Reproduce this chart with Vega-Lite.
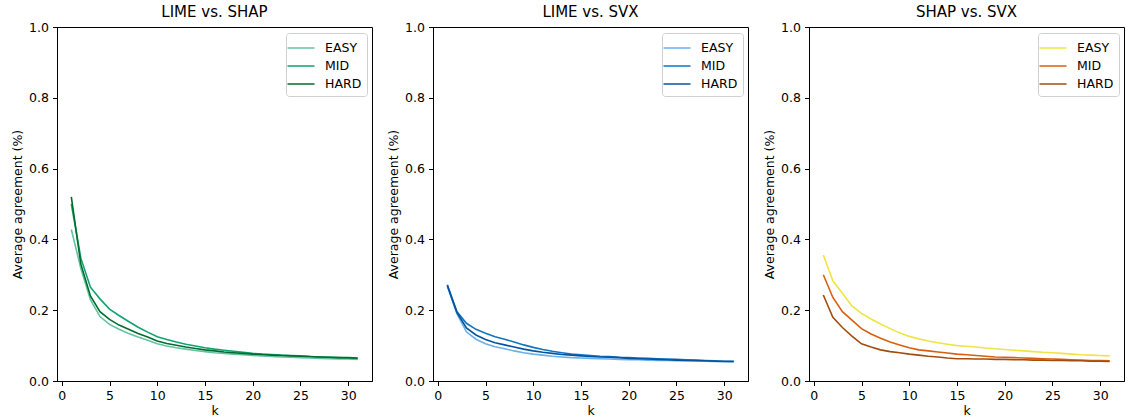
{
  "$schema": "https://vega.github.io/schema/vega-lite/v6.json",
  "padding": {"left": 11, "top": 4, "right": 2, "bottom": 2},
  "background": "white",
  "config": {
    "font": "DejaVu Sans",
    "view": {"stroke": "black", "strokeWidth": 1},
    "title": {"fontSize": 15, "fontWeight": "normal", "color": "black", "offset": 0, "dy": 3},
    "axis": {
      "grid": false,
      "domainColor": "black",
      "tickColor": "black",
      "tickSize": 4.5,
      "labelFontSize": 12.5,
      "labelColor": "black",
      "labelPadding": 4,
      "titleFontSize": 12.5,
      "titleFontWeight": "normal",
      "titleColor": "black",
      "titlePadding": 4
    },
    "axisX": {"titlePadding": 2},
    "legend": {
      "orient": "top-right",
      "offset": 5.5,
      "strokeColor": "#d0d0d0",
      "fillColor": "white",
      "padding": 5,
      "cornerRadius": 3,
      "labelFontSize": 12.5,
      "labelColor": "black",
      "symbolType": "M-1.5,0H1.5",
      "symbolStrokeWidth": 1.5,
      "symbolSize": 324,
      "rowPadding": 1,
      "labelOffset": 14
    }
  },
  "datasets": {
    "d": [
      {"pair": "LIME vs. SHAP", "k": 1, "EASY": 0.428, "MID": 0.500, "HARD": 0.520},
      {"pair": "LIME vs. SHAP", "k": 2, "EASY": 0.318, "MID": 0.347, "HARD": 0.330},
      {"pair": "LIME vs. SHAP", "k": 3, "EASY": 0.230, "MID": 0.265, "HARD": 0.240},
      {"pair": "LIME vs. SHAP", "k": 4, "EASY": 0.182, "MID": 0.232, "HARD": 0.196},
      {"pair": "LIME vs. SHAP", "k": 5, "EASY": 0.160, "MID": 0.203, "HARD": 0.174},
      {"pair": "LIME vs. SHAP", "k": 6, "EASY": 0.146, "MID": 0.185, "HARD": 0.158},
      {"pair": "LIME vs. SHAP", "k": 7, "EASY": 0.134, "MID": 0.168, "HARD": 0.146},
      {"pair": "LIME vs. SHAP", "k": 8, "EASY": 0.124, "MID": 0.152, "HARD": 0.134},
      {"pair": "LIME vs. SHAP", "k": 9, "EASY": 0.115, "MID": 0.138, "HARD": 0.124},
      {"pair": "LIME vs. SHAP", "k": 10, "EASY": 0.105, "MID": 0.125, "HARD": 0.113},
      {"pair": "LIME vs. SHAP", "k": 11, "EASY": 0.099, "MID": 0.117, "HARD": 0.106},
      {"pair": "LIME vs. SHAP", "k": 12, "EASY": 0.094, "MID": 0.110, "HARD": 0.101},
      {"pair": "LIME vs. SHAP", "k": 13, "EASY": 0.090, "MID": 0.104, "HARD": 0.096},
      {"pair": "LIME vs. SHAP", "k": 14, "EASY": 0.086, "MID": 0.099, "HARD": 0.092},
      {"pair": "LIME vs. SHAP", "k": 15, "EASY": 0.083, "MID": 0.094, "HARD": 0.088},
      {"pair": "LIME vs. SHAP", "k": 16, "EASY": 0.080, "MID": 0.090, "HARD": 0.085},
      {"pair": "LIME vs. SHAP", "k": 17, "EASY": 0.078, "MID": 0.087, "HARD": 0.082},
      {"pair": "LIME vs. SHAP", "k": 18, "EASY": 0.076, "MID": 0.084, "HARD": 0.080},
      {"pair": "LIME vs. SHAP", "k": 19, "EASY": 0.074, "MID": 0.081, "HARD": 0.078},
      {"pair": "LIME vs. SHAP", "k": 20, "EASY": 0.072, "MID": 0.078, "HARD": 0.076},
      {"pair": "LIME vs. SHAP", "k": 21, "EASY": 0.071, "MID": 0.076, "HARD": 0.075},
      {"pair": "LIME vs. SHAP", "k": 22, "EASY": 0.069, "MID": 0.075, "HARD": 0.073},
      {"pair": "LIME vs. SHAP", "k": 23, "EASY": 0.068, "MID": 0.073, "HARD": 0.072},
      {"pair": "LIME vs. SHAP", "k": 24, "EASY": 0.067, "MID": 0.072, "HARD": 0.071},
      {"pair": "LIME vs. SHAP", "k": 25, "EASY": 0.066, "MID": 0.071, "HARD": 0.070},
      {"pair": "LIME vs. SHAP", "k": 26, "EASY": 0.065, "MID": 0.069, "HARD": 0.069},
      {"pair": "LIME vs. SHAP", "k": 27, "EASY": 0.064, "MID": 0.068, "HARD": 0.068},
      {"pair": "LIME vs. SHAP", "k": 28, "EASY": 0.063, "MID": 0.067, "HARD": 0.067},
      {"pair": "LIME vs. SHAP", "k": 29, "EASY": 0.062, "MID": 0.066, "HARD": 0.066},
      {"pair": "LIME vs. SHAP", "k": 30, "EASY": 0.062, "MID": 0.065, "HARD": 0.066},
      {"pair": "LIME vs. SHAP", "k": 31, "EASY": 0.061, "MID": 0.064, "HARD": 0.065},
      {"pair": "LIME vs. SVX", "k": 1, "EASY": 0.268, "MID": 0.272, "HARD": 0.270},
      {"pair": "LIME vs. SVX", "k": 2, "EASY": 0.190, "MID": 0.196, "HARD": 0.194},
      {"pair": "LIME vs. SVX", "k": 3, "EASY": 0.139, "MID": 0.163, "HARD": 0.150},
      {"pair": "LIME vs. SVX", "k": 4, "EASY": 0.118, "MID": 0.146, "HARD": 0.130},
      {"pair": "LIME vs. SVX", "k": 5, "EASY": 0.105, "MID": 0.135, "HARD": 0.117},
      {"pair": "LIME vs. SVX", "k": 6, "EASY": 0.097, "MID": 0.125, "HARD": 0.108},
      {"pair": "LIME vs. SVX", "k": 7, "EASY": 0.091, "MID": 0.118, "HARD": 0.102},
      {"pair": "LIME vs. SVX", "k": 8, "EASY": 0.085, "MID": 0.110, "HARD": 0.096},
      {"pair": "LIME vs. SVX", "k": 9, "EASY": 0.080, "MID": 0.102, "HARD": 0.090},
      {"pair": "LIME vs. SVX", "k": 10, "EASY": 0.076, "MID": 0.095, "HARD": 0.085},
      {"pair": "LIME vs. SVX", "k": 11, "EASY": 0.073, "MID": 0.089, "HARD": 0.081},
      {"pair": "LIME vs. SVX", "k": 12, "EASY": 0.070, "MID": 0.084, "HARD": 0.078},
      {"pair": "LIME vs. SVX", "k": 13, "EASY": 0.068, "MID": 0.080, "HARD": 0.075},
      {"pair": "LIME vs. SVX", "k": 14, "EASY": 0.066, "MID": 0.076, "HARD": 0.073},
      {"pair": "LIME vs. SVX", "k": 15, "EASY": 0.065, "MID": 0.074, "HARD": 0.071},
      {"pair": "LIME vs. SVX", "k": 16, "EASY": 0.064, "MID": 0.072, "HARD": 0.069},
      {"pair": "LIME vs. SVX", "k": 17, "EASY": 0.063, "MID": 0.070, "HARD": 0.068},
      {"pair": "LIME vs. SVX", "k": 18, "EASY": 0.062, "MID": 0.069, "HARD": 0.067},
      {"pair": "LIME vs. SVX", "k": 19, "EASY": 0.061, "MID": 0.067, "HARD": 0.066},
      {"pair": "LIME vs. SVX", "k": 20, "EASY": 0.060, "MID": 0.066, "HARD": 0.064},
      {"pair": "LIME vs. SVX", "k": 21, "EASY": 0.060, "MID": 0.065, "HARD": 0.063},
      {"pair": "LIME vs. SVX", "k": 22, "EASY": 0.059, "MID": 0.064, "HARD": 0.062},
      {"pair": "LIME vs. SVX", "k": 23, "EASY": 0.058, "MID": 0.063, "HARD": 0.061},
      {"pair": "LIME vs. SVX", "k": 24, "EASY": 0.058, "MID": 0.062, "HARD": 0.060},
      {"pair": "LIME vs. SVX", "k": 25, "EASY": 0.057, "MID": 0.061, "HARD": 0.059},
      {"pair": "LIME vs. SVX", "k": 26, "EASY": 0.057, "MID": 0.060, "HARD": 0.058},
      {"pair": "LIME vs. SVX", "k": 27, "EASY": 0.056, "MID": 0.059, "HARD": 0.058},
      {"pair": "LIME vs. SVX", "k": 28, "EASY": 0.056, "MID": 0.058, "HARD": 0.057},
      {"pair": "LIME vs. SVX", "k": 29, "EASY": 0.055, "MID": 0.057, "HARD": 0.056},
      {"pair": "LIME vs. SVX", "k": 30, "EASY": 0.055, "MID": 0.056, "HARD": 0.055},
      {"pair": "LIME vs. SVX", "k": 31, "EASY": 0.054, "MID": 0.056, "HARD": 0.055},
      {"pair": "SHAP vs. SVX", "k": 1, "EASY": 0.356, "MID": 0.300, "HARD": 0.243},
      {"pair": "SHAP vs. SVX", "k": 2, "EASY": 0.283, "MID": 0.236, "HARD": 0.180},
      {"pair": "SHAP vs. SVX", "k": 3, "EASY": 0.248, "MID": 0.196, "HARD": 0.151},
      {"pair": "SHAP vs. SVX", "k": 4, "EASY": 0.212, "MID": 0.172, "HARD": 0.127},
      {"pair": "SHAP vs. SVX", "k": 5, "EASY": 0.191, "MID": 0.148, "HARD": 0.105},
      {"pair": "SHAP vs. SVX", "k": 6, "EASY": 0.175, "MID": 0.133, "HARD": 0.096},
      {"pair": "SHAP vs. SVX", "k": 7, "EASY": 0.161, "MID": 0.121, "HARD": 0.088},
      {"pair": "SHAP vs. SVX", "k": 8, "EASY": 0.148, "MID": 0.110, "HARD": 0.083},
      {"pair": "SHAP vs. SVX", "k": 9, "EASY": 0.136, "MID": 0.102, "HARD": 0.080},
      {"pair": "SHAP vs. SVX", "k": 10, "EASY": 0.126, "MID": 0.094, "HARD": 0.076},
      {"pair": "SHAP vs. SVX", "k": 11, "EASY": 0.119, "MID": 0.088, "HARD": 0.073},
      {"pair": "SHAP vs. SVX", "k": 12, "EASY": 0.113, "MID": 0.085, "HARD": 0.070},
      {"pair": "SHAP vs. SVX", "k": 13, "EASY": 0.108, "MID": 0.082, "HARD": 0.068},
      {"pair": "SHAP vs. SVX", "k": 14, "EASY": 0.104, "MID": 0.079, "HARD": 0.065},
      {"pair": "SHAP vs. SVX", "k": 15, "EASY": 0.100, "MID": 0.076, "HARD": 0.063},
      {"pair": "SHAP vs. SVX", "k": 16, "EASY": 0.098, "MID": 0.074, "HARD": 0.063},
      {"pair": "SHAP vs. SVX", "k": 17, "EASY": 0.096, "MID": 0.072, "HARD": 0.062},
      {"pair": "SHAP vs. SVX", "k": 18, "EASY": 0.093, "MID": 0.070, "HARD": 0.062},
      {"pair": "SHAP vs. SVX", "k": 19, "EASY": 0.091, "MID": 0.068, "HARD": 0.061},
      {"pair": "SHAP vs. SVX", "k": 20, "EASY": 0.089, "MID": 0.067, "HARD": 0.061},
      {"pair": "SHAP vs. SVX", "k": 21, "EASY": 0.087, "MID": 0.066, "HARD": 0.060},
      {"pair": "SHAP vs. SVX", "k": 22, "EASY": 0.085, "MID": 0.065, "HARD": 0.060},
      {"pair": "SHAP vs. SVX", "k": 23, "EASY": 0.083, "MID": 0.064, "HARD": 0.059},
      {"pair": "SHAP vs. SVX", "k": 24, "EASY": 0.081, "MID": 0.063, "HARD": 0.059},
      {"pair": "SHAP vs. SVX", "k": 25, "EASY": 0.080, "MID": 0.062, "HARD": 0.058},
      {"pair": "SHAP vs. SVX", "k": 26, "EASY": 0.078, "MID": 0.061, "HARD": 0.058},
      {"pair": "SHAP vs. SVX", "k": 27, "EASY": 0.076, "MID": 0.060, "HARD": 0.057},
      {"pair": "SHAP vs. SVX", "k": 28, "EASY": 0.074, "MID": 0.059, "HARD": 0.057},
      {"pair": "SHAP vs. SVX", "k": 29, "EASY": 0.073, "MID": 0.058, "HARD": 0.056},
      {"pair": "SHAP vs. SVX", "k": 30, "EASY": 0.072, "MID": 0.058, "HARD": 0.056},
      {"pair": "SHAP vs. SVX", "k": 31, "EASY": 0.071, "MID": 0.057, "HARD": 0.055}
    ]
  },
  "spacing": 61,
  "bounds": "flush",
  "resolve": {"scale": {"color": "independent"}, "legend": {"color": "independent"}},
  "hconcat": [
    {
      "width": 315, "height": 354,
      "title": "LIME vs. SHAP",
      "data": {"name": "d"},
      "transform": [{"filter": "datum.pair === 'LIME vs. SHAP'"}, {"fold": ["EASY", "MID", "HARD"], "as": ["level", "v"]}],
      "mark": {"type": "line", "strokeWidth": 1.6},
      "encoding": {
        "x": {"field": "k", "type": "quantitative", "title": "k", "scale": {"domain": [-0.5, 32.5], "nice": false, "zero": false}, "axis": {"values": [0, 5, 10, 15, 20, 25, 30]}},
        "y": {"field": "v", "type": "quantitative", "title": "Average agreement (%)", "scale": {"domain": [0, 1], "nice": false}, "axis": {"values": [0, 0.2, 0.4, 0.6, 0.8, 1.0], "format": ".1f"}},
        "color": {"field": "level", "type": "nominal", "title": null, "sort": ["EASY", "MID", "HARD"], "scale": {"domain": ["EASY", "MID", "HARD"], "range": ["#66c2a4", "#12a173", "#006d2c"]}}
      }
    },
    {
      "width": 315, "height": 354,
      "title": "LIME vs. SVX",
      "data": {"name": "d"},
      "transform": [{"filter": "datum.pair === 'LIME vs. SVX'"}, {"fold": ["EASY", "MID", "HARD"], "as": ["level", "v"]}],
      "mark": {"type": "line", "strokeWidth": 1.6},
      "encoding": {
        "x": {"field": "k", "type": "quantitative", "title": "k", "scale": {"domain": [-0.5, 32.5], "nice": false, "zero": false}, "axis": {"values": [0, 5, 10, 15, 20, 25, 30]}},
        "y": {"field": "v", "type": "quantitative", "title": "Average agreement (%)", "scale": {"domain": [0, 1], "nice": false}, "axis": {"values": [0, 0.2, 0.4, 0.6, 0.8, 1.0], "format": ".1f"}},
        "color": {"field": "level", "type": "nominal", "title": null, "sort": ["EASY", "MID", "HARD"], "scale": {"domain": ["EASY", "MID", "HARD"], "range": ["#68b0ee", "#0f75bf", "#08539e"]}}
      }
    },
    {
      "width": 315, "height": 354,
      "title": "SHAP vs. SVX",
      "data": {"name": "d"},
      "transform": [{"filter": "datum.pair === 'SHAP vs. SVX'"}, {"fold": ["EASY", "MID", "HARD"], "as": ["level", "v"]}],
      "mark": {"type": "line", "strokeWidth": 1.6},
      "encoding": {
        "x": {"field": "k", "type": "quantitative", "title": "k", "scale": {"domain": [-0.5, 32.5], "nice": false, "zero": false}, "axis": {"values": [0, 5, 10, 15, 20, 25, 30]}},
        "y": {"field": "v", "type": "quantitative", "title": "Average agreement (%)", "scale": {"domain": [0, 1], "nice": false}, "axis": {"values": [0, 0.2, 0.4, 0.6, 0.8, 1.0], "format": ".1f"}},
        "color": {"field": "level", "type": "nominal", "title": null, "sort": ["EASY", "MID", "HARD"], "scale": {"domain": ["EASY", "MID", "HARD"], "range": ["#f0e442", "#d95f0e", "#a34c0c"]}}
      }
    }
  ]
}
